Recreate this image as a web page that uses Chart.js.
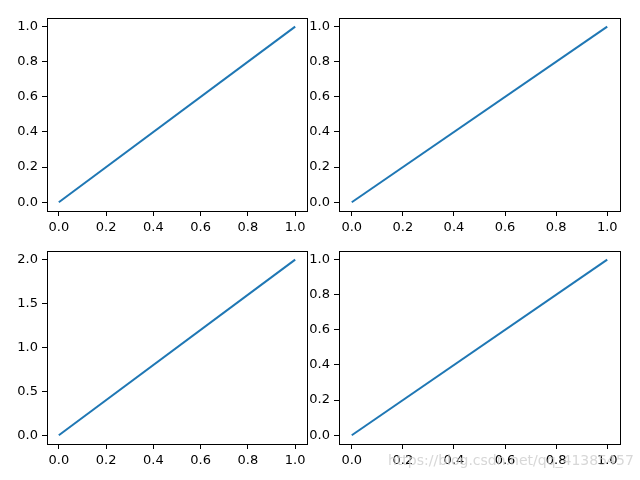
<!DOCTYPE html>
<html>
<head>
<meta charset="utf-8">
<script src="https://cdn.jsdelivr.net/npm/chart.js@4"></script>
<style>
  body { margin: 0; width: 640px; height: 480px; background: #fff; position: relative; overflow: hidden; }
  .box { position: absolute; }
  #mark { position: absolute; left: 388px; top: 452px; font: 14px "DejaVu Sans"; color: rgba(205,205,205,0.8); }
</style>
</head>
<body>
<div class="box" style="left:7px;top:6px;width:305px;height:230px"><canvas id="c1"></canvas></div>
<div class="box" style="left:299px;top:6px;width:326px;height:230px"><canvas id="c2"></canvas></div>
<div class="box" style="left:7px;top:239px;width:305px;height:230px"><canvas id="c3"></canvas></div>
<div class="box" style="left:299px;top:239px;width:326px;height:230px"><canvas id="c4"></canvas></div>
<div id="mark">https://blog.csdn.net/qq_41385457</div>
<script>
const xValues = [0, 1];
const ySeries1 = [0, 1];
const ySeries2 = [0, 1];
const ySeries3 = [0, 2];
const ySeries4 = [0, 1];
const xTicks = [0, 0.2, 0.4, 0.6, 0.8, 1.0];
const yTicksUnit = [0, 0.2, 0.4, 0.6, 0.8, 1.0];
const yTicksDouble = [0, 0.5, 1.0, 1.5, 2.0];

const frame = {
  id: 'frame',
  afterDraw(chart) {
    const a = chart.chartArea, c = chart.ctx;
    c.save();
    c.strokeStyle = '#000';
    c.lineWidth = 1;
    c.strokeRect(Math.round(a.left) + 0.5, Math.round(a.top) + 0.5, Math.round(a.right - a.left), Math.round(a.bottom - a.top));
    c.restore();
  }
};

function axis(ticks, min, max, fit) {
  return {
    type: 'linear', min: min, max: max,
    afterBuildTicks: s => { s.ticks = ticks.map(v => ({ value: v })); },
    afterFit: fit,
    border: { display: false },
    grid: { drawOnChartArea: false, tickLength: 5, color: '#000' },
    ticks: { color: '#000', padding: 4, font: { family: 'DejaVu Sans', size: 13 }, callback: v => v.toFixed(1) }
  };
}

function makeChart(id, ys, yTicks, ymin, ymax) {
  new Chart(document.getElementById(id), {
    type: 'line',
    data: { datasets: [{ data: xValues.map((x, i) => ({ x: x, y: ys[i] })), borderColor: '#1f77b4', borderWidth: 2, pointRadius: 0 }] },
    options: {
      responsive: true, maintainAspectRatio: false, animation: false,
      layout: { padding: { top: 5, right: 5, left: 0, bottom: 0 } },
      plugins: { legend: { display: false }, tooltip: { enabled: false } },
      scales: {
        x: axis(xTicks, -0.05, 1.05, s => { s.height = 25; }),
        y: axis(yTicks, ymin, ymax, s => { s.width = 40; })
      }
    },
    plugins: [frame]
  });
}

makeChart('c1', ySeries1, yTicksUnit, -0.05, 1.05);
makeChart('c2', ySeries2, yTicksUnit, -0.05, 1.05);
makeChart('c3', ySeries3, yTicksDouble, -0.1, 2.1);
makeChart('c4', ySeries4, yTicksUnit, -0.05, 1.05);
</script>
</body>
</html>
